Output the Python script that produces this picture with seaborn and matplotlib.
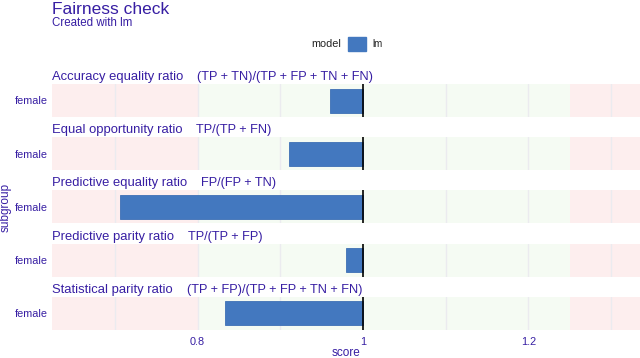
import matplotlib
matplotlib.use("Agg")
import matplotlib.pyplot as plt
import seaborn as sns
import pandas as pd
from matplotlib.ticker import FixedLocator, FuncFormatter
from matplotlib.patches import Patch

sns.set_theme(style="white")
plt.rcParams["font.family"] = ["Liberation Sans", "DejaVu Sans"]

metrics = ["Accuracy equality ratio", "Equal opportunity ratio",
           "Predictive equality ratio", "Predictive parity ratio",
           "Statistical parity ratio"]
formulas = ["(TP + TN)/(TP + FP + TN + FN)", "TP/(TP + FN)",
            "FP/(FP + TN)", "TP/(TP + FP)",
            "(TP + FP)/(TP + FP + TN + FN)"]
subgroup = ["female"] * 5
scores = [0.960, 0.910, 0.706, 0.980, 0.833]
model = "lm"

BLUE = "#4378bf"
PURPLE = "#371ea3"
RED_BG = "#fdeeee"
GREEN_BG = "#f5fbf3"

W, H = 640, 358
fig = plt.figure(figsize=(W / 100, H / 100), dpi=100)

xmin, xmax = 0.624 - 1, 1.335 - 1
left_px = 52
panel_top0 = 84
step = 53.2
ph = 33

labels = []
for i in range(5):
    top = panel_top0 + i * step
    ax = fig.add_axes([left_px / W, 1 - (top + ph) / H, (W - left_px) / W, ph / H])
    df = pd.DataFrame({"subgroup": [subgroup[i]], "dev": [scores[i] - 1.0], "model": [model]})
    ax.axvspan(xmin, 0.8 - 1, color=RED_BG, lw=0, zorder=0)
    ax.axvspan(0.8 - 1, 1.25 - 1, color=GREEN_BG, lw=0, zorder=0)
    ax.axvspan(1.25 - 1, xmax, color=RED_BG, lw=0, zorder=0)
    for g in [0.7, 0.8, 0.9, 1.1, 1.2, 1.3]:
        ax.axvline(g - 1, color="#ebebef", lw=1.0, zorder=1)
    sns.barplot(data=df, x="dev", y="subgroup", hue="model", palette=[BLUE],
                orient="h", width=0.8, ax=ax, legend=False, zorder=2,
                saturation=1, edgecolor="#3d70b5", linewidth=0.6)
    ax.axvline(0, color="black", lw=1.2, zorder=3)
    ax.set_xlim(xmin, xmax)
    ax.set_ylim(0.55, -0.55)
    for s in ax.spines.values():
        s.set_visible(False)
    ax.set_ylabel("")
    ax.set_xlabel("")
    ax.tick_params(axis="y", length=0, labelsize=7.8, labelcolor=PURPLE, pad=3)
    ax.xaxis.set_major_locator(FixedLocator([-0.2, 0.0, 0.2]))
    ax.xaxis.set_major_formatter(FuncFormatter(lambda v, p: f"{1 + v:g}"))
    if i < 4:
        ax.tick_params(axis="x", length=0, labelbottom=False)
    else:
        ax.tick_params(axis="x", length=0, labelsize=7.8, labelcolor=PURPLE, pad=5)
    ax.grid(False)
    t = fig.text(left_px / W, 1 - (top - 7) / H, metrics[i],
                 fontsize=9.35, color=PURPLE, ha="left", va="center")
    labels.append((t, top))

fig.canvas.draw()
renderer = fig.canvas.get_renderer()
for i, (t, top) in enumerate(labels):
    bb = t.get_window_extent(renderer)
    fig.text((bb.x1 + 14) / W, 1 - (top - 7) / H, formulas[i],
             fontsize=9.2, color=PURPLE, ha="left", va="center")

fig.text(left_px / W, 1 - 9.5 / H, "Fairness check", fontsize=12.5, color=PURPLE,
         ha="left", va="center")
fig.text(left_px / W, 1 - 23 / H, "Created with lm", fontsize=8.3, color=PURPLE,
         ha="left", va="center")
fig.text(6 / W, 1 - 207 / H, "subgroup", fontsize=8.5, color=PURPLE, rotation=90,
         ha="center", va="center")
fig.text(346 / W, 1 - 353 / H, "score", fontsize=8.5, color=PURPLE,
         ha="center", va="center")

fig.text(341 / W, 1 - 44 / H, "model", fontsize=7.8, color="#222222", ha="right", va="center")
leg = fig.legend(handles=[Patch(facecolor=BLUE, edgecolor=BLUE, label=model)],
                 loc="center left", bbox_to_anchor=(348 / W, 1 - 44 / H),
                 frameon=False, fontsize=7, handlelength=1.9, handleheight=1.7,
                 handletextpad=0.6, borderpad=0, borderaxespad=0)

fig.savefig("out.png", dpi=100)
